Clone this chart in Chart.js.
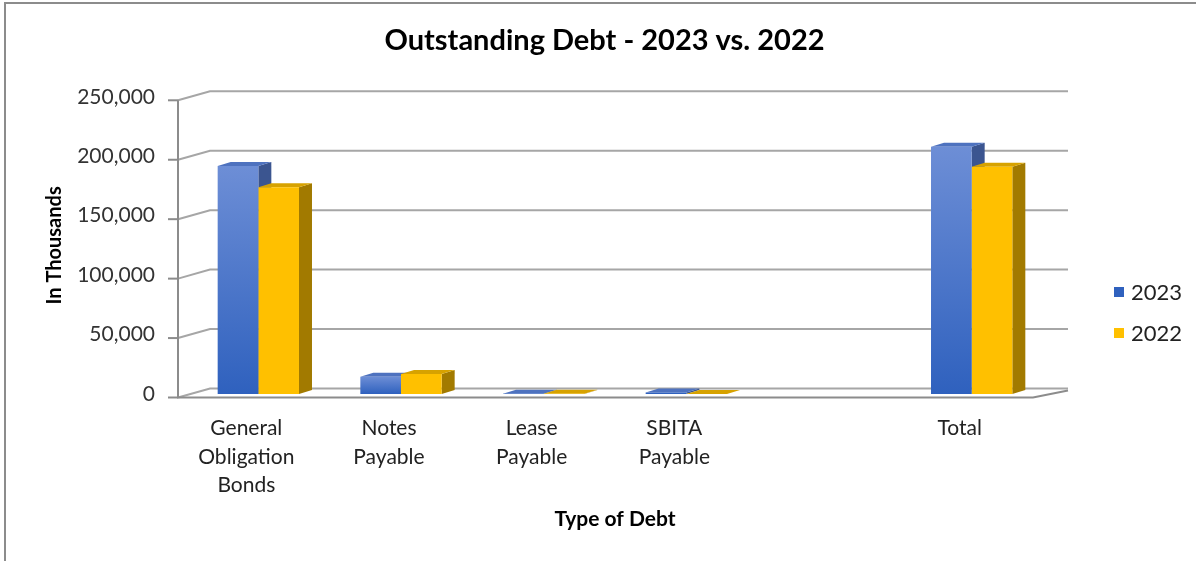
<!DOCTYPE html>
<html>
<head>
<meta charset="utf-8">
<script src="https://cdn.jsdelivr.net/npm/chart.js@4/dist/chart.umd.min.js"></script>
<style>
  html, body { margin: 0; padding: 0; background: #fff; }
  #wrap { position: relative; width: 1196px; height: 561px; }
  #frame { position: absolute; left: 4px; top: 2px; right: -4px; bottom: -4px;
           border-left: 2px solid #8c8c8c; border-top: 2px solid #8c8c8c; }
  canvas { position: absolute; left: 0; top: 0; }
</style>
</head>
<body>
<div id="wrap">
  <div id="frame"></div>
  <canvas id="debtChart" width="1196" height="561"></canvas>
</div>
<script>
// categories (blank slot between SBITA and Total, as in the source)
const categories = [
  ['General', 'Obligation', 'Bonds'],
  ['Notes', 'Payable'],
  ['Lease', 'Payable'],
  ['SBITA', 'Payable'],
  '',
  'Total'
];
const debt2023 = [191800, 14600, 300, 1200, null, 208000];
const debt2022 = [174000, 16800, 200, 100, null, 191200];
const yTicks = [0, 50000, 100000, 150000, 200000, 250000];

const FONT = 'Lato, "Open Sans", sans-serif';
const DX = 13, DY = 4;      // bar depth
const WX = 32, WY = 9;      // wall depth

const look = {
  '2023': { top: '#6d8ed6', bottom: '#2f61be', side: '#3b5590', lid: '#4e72bf' },
  '2022': { top: '#ffc000', bottom: '#ffc000', side: '#a27a00', lid: '#d7a200' }
};

function frontFill(ctx, name) {
  const c = look[name];
  const chart = ctx.chart;
  if (!chart.chartArea || ctx.raw == null) return c.bottom;
  const ys = chart.scales.y;
  const y0 = ys.getPixelForValue(ctx.raw);
  const y1 = ys.getPixelForValue(0);
  if (y1 - y0 < 2) return c.bottom;
  const g = chart.ctx.createLinearGradient(0, y0, 0, y1);
  g.addColorStop(0, c.top);
  g.addColorStop(1, c.bottom);
  return g;
}

// walls, gridlines and the 3D faces of the bars
const depthPlugin = {
  id: 'depth',
  afterLayout(chart) {
    // title sits centred over the whole picture, not the padded box
    const t = chart.titleBlock;
    if (t) { t.left += 68; t.right += 68; }
  },
  beforeDatasetsDraw(chart) {
    const ctx = chart.ctx;
    const area = chart.chartArea;
    const ys = chart.scales.y;
    const left = area.left - 9;
    const right = area.right - 10;
    ctx.save();
    ctx.lineWidth = 2;
    ctx.strokeStyle = '#a6a6a6';
    yTicks.forEach(v => {
      const y = ys.getPixelForValue(v);
      ctx.beginPath();
      ctx.moveTo(left, y + 3.5);
      ctx.lineTo(left + WX, y + 3.5 - WY);
      ctx.lineTo(right + 35, y + 3.5 - WY);
      ctx.stroke();
    });
    // front axes
    const yb = ys.getPixelForValue(0) + 3.5;
    const yt = ys.getPixelForValue(250000) + 3.5;
    ctx.strokeStyle = '#8c8c8c';
    ctx.beginPath();
    ctx.moveTo(left, yt);
    ctx.lineTo(left, yb);
    ctx.lineTo(right, yb);
    ctx.lineTo(right + 35, yb - 7);
    ctx.stroke();
    yTicks.forEach(v => {
      const y = ys.getPixelForValue(v) + 3.5;
      ctx.beginPath();
      ctx.moveTo(left - 10, y);
      ctx.lineTo(left, y);
      ctx.stroke();
    });
    // side and top of each bar
    chart.data.datasets.forEach((ds, di) => {
      const c = look[ds.label];
      chart.getDatasetMeta(di).data.forEach((bar, i) => {
        if (ds.data[i] == null) return;
        const x0 = bar.x - bar.width / 2, x1 = bar.x + bar.width / 2;
        const top = bar.y, base = bar.base;
        ctx.fillStyle = c.side;
        ctx.beginPath();
        ctx.moveTo(x1, top);
        ctx.lineTo(x1 + DX, top - DY);
        ctx.lineTo(x1 + DX, base - DY);
        ctx.lineTo(x1, base);
        ctx.closePath();
        ctx.fill();
        ctx.fillStyle = c.lid;
        ctx.beginPath();
        ctx.moveTo(x0, top);
        ctx.lineTo(x0 + DX, top - DY);
        ctx.lineTo(x1 + DX, top - DY);
        ctx.lineTo(x1, top);
        ctx.closePath();
        ctx.fill();
      });
    });
    ctx.restore();
  },
  afterDraw(chart) {
    // legend on the right
    const ctx = chart.ctx;
    ctx.save();
    ctx.font = '22px ' + FONT;
    ctx.textBaseline = 'middle';
    chart.data.datasets.forEach((ds, di) => {
      const y = 292 + di * 41;
      ctx.fillStyle = look[ds.label].bottom;
      ctx.fillRect(1114, y - 5, 10, 10);
      ctx.fillStyle = '#222';
      ctx.fillText(ds.label, 1131, y + 1);
    });
    ctx.restore();
  }
};

new Chart(document.getElementById('debtChart'), {
  type: 'bar',
  data: {
    labels: categories,
    datasets: [
      { label: '2023', data: debt2023, backgroundColor: ctx => frontFill(ctx, '2023') },
      { label: '2022', data: debt2022, backgroundColor: ctx => frontFill(ctx, '2022') }
    ]
  },
  options: {
    responsive: false,
    animation: false,
    layout: { padding: { left: 30, right: 153, top: 0, bottom: 20 } },
    datasets: { bar: { barPercentage: 1, categoryPercentage: 0.57, borderWidth: 0 } },
    plugins: {
      legend: { display: false },
      tooltip: { enabled: false },
      title: {
        display: true,
        text: 'Outstanding Debt - 2023 vs. 2022',
        color: '#000',
        font: { family: FONT, size: 29, weight: 'bold' },
        padding: { top: 23, bottom: 39 }
      }
    },
    scales: {
      x: {
        grid: { display: false, drawTicks: false },
        border: { display: false },
        ticks: {
          color: '#222',
          padding: 20,
          labelOffset: -12,
          maxRotation: 0,
          autoSkip: false,
          font: { family: FONT, size: 21, lineHeight: 1.36 }
        },
        title: {
          display: true,
          text: 'Type of Debt',
          color: '#000',
          font: { family: FONT, size: 21, weight: 'bold' },
          padding: { top: 0, bottom: 9 }
        },
        afterFit(scale) { scale.height = 561 - 394 - 20; }
      },
      y: {
        min: 0,
        max: 250000,
        grid: { display: false, drawTicks: false },
        border: { display: false },
        ticks: {
          stepSize: 50000,
          color: '#333',
          padding: 32,
          font: { family: FONT, size: 21 },
          callback: v => v.toLocaleString('en-US')
        },
        title: {
          display: true,
          text: 'In Thousands',
          color: '#000',
          font: { family: FONT, size: 20, weight: 'bold' },
          padding: { top: 13, bottom: 0 }
        },
        afterFit(scale) { scale.width = 187 - 30; }
      }
    }
  },
  plugins: [depthPlugin]
});
</script>
</body>
</html>
